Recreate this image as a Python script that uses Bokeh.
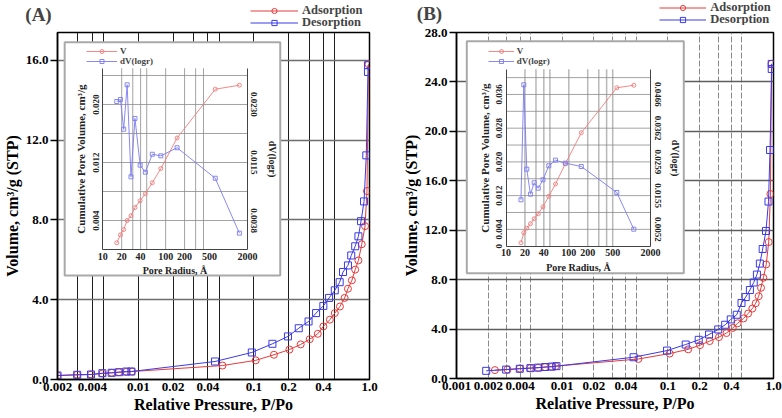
import math
from bokeh.plotting import figure
from bokeh.layouts import row, column
from bokeh.models import (Range1d, LogScale, LinearAxis, LogAxis, FixedTicker,
                          PrintfTickFormatter, Legend, LegendItem, Label)
from bokeh.embed import file_html
from bokeh.resources import INLINE

# ---------------- Panel A: isotherm ----------------
A_ads_p = [0.002, 0.00296, 0.0039, 0.00489, 0.00588, 0.00679, 0.00789, 0.00881, 0.0535, 0.1037,
           0.149, 0.203, 0.254, 0.304, 0.357, 0.399, 0.454, 0.501, 0.555, 0.609, 0.651, 0.704,
           0.752, 0.802, 0.857, 0.915, 0.951, 0.980]
A_ads_v = [0.20, 0.236, 0.25, 0.30, 0.336, 0.366, 0.386, 0.40, 0.70, 0.96, 1.24, 1.50, 1.76,
           2.02, 2.29, 2.66, 3.00, 3.33, 3.66, 4.09, 4.55, 4.97, 5.51, 5.97, 6.78, 7.69, 9.45, 15.81]
A_des_p = [0.970, 0.970, 0.938, 0.897, 0.845, 0.802, 0.752, 0.695, 0.651, 0.590, 0.552, 0.501,
           0.447, 0.399, 0.345, 0.297, 0.2443, 0.197, 0.1446, 0.0959, 0.0461, 0.00871, 0.00789,
           0.00679, 0.00588, 0.00489, 0.0039, 0.00296, 0.002]
A_des_v = [15.76, 15.42, 11.24, 8.93, 7.94, 7.18, 6.68, 6.22, 5.72, 5.39, 4.88, 4.47, 4.09, 3.69,
           3.33, 2.91, 2.57, 2.16, 1.79, 1.355, 0.903, 0.40, 0.40, 0.366, 0.336, 0.316, 0.251,
           0.236, 0.20]
# Panel A: pore distribution inset
A_r = [16.7, 19.1, 21.5, 24.4, 28.1, 32.5, 39.3, 47.6, 61.3, 83.9, 152, 615, 1489]
A_V = [0.00092, 0.00203, 0.00276, 0.0040, 0.00465, 0.00579, 0.00672, 0.0077, 0.00921, 0.01117,
       0.01538, 0.02211, 0.02266]
A_dV = [0.01956, 0.01983, 0.0159, 0.02177, 0.00961, 0.01732, 0.01115, 0.01022, 0.01259, 0.01238,
        0.01345, 0.00942, 0.00216]

# ---------------- Panel B: isotherm ----------------
B_ads_p = [0.00231, 0.00304, 0.00397, 0.00497, 0.00592, 0.00689, 0.00797, 0.00869, 0.0527, 0.1042,
           0.156, 0.2017, 0.249, 0.305, 0.359, 0.411, 0.458, 0.520, 0.576, 0.631, 0.679, 0.724,
           0.762, 0.802, 0.853, 0.901, 0.935, 0.957]
B_ads_v = [0.68, 0.73, 0.81, 0.84, 0.87, 0.92, 0.95, 1.0, 1.58, 2.02, 2.36, 2.70, 3.03, 3.35,
           3.68, 4.09, 4.47, 4.86, 5.26, 5.66, 6.09, 6.66, 7.34, 8.15, 9.23, 11.04, 14.93, 25.46]
B_des_p = [0.962, 0.962, 0.927, 0.897, 0.849, 0.790, 0.743, 0.697, 0.650, 0.598, 0.546, 0.498,
           0.449, 0.394, 0.349, 0.2998, 0.2454, 0.196, 0.1477, 0.0983, 0.0474, 0.00883, 0.00797,
           0.00689, 0.00592, 0.00501, 0.00397, 0.00295, 0.00191]
B_des_v = [25.46, 25.05, 18.49, 14.32, 11.94, 10.48, 9.30, 8.41, 7.77, 7.16, 6.59, 6.11, 5.16,
           4.78, 4.35, 3.97, 3.56, 3.13, 2.75, 2.26, 1.72, 1.0, 0.96, 0.93, 0.88, 0.84, 0.785,
           0.72, 0.62]
# Panel B: pore distribution inset
B_r = [17.3, 19.2, 21.4, 24.5, 28.1, 32.6, 38.8, 48.0, 61.4, 88, 158, 581, 1084]
B_V = [0.00081, 0.00318, 0.00427, 0.00532, 0.0065, 0.00769, 0.00935, 0.01184, 0.01476, 0.01955,
       0.02691, 0.03759, 0.03818]
B_dV = [0.01425, 0.04956, 0.02364, 0.01597, 0.01947, 0.01781, 0.02039, 0.02469, 0.02641, 0.02549,
        0.02447, 0.01649, 0.00522]

# ---------------- ticks / labels ----------------
A_xticks = [0.002, 0.004, 0.01, 0.02, 0.04, 0.1, 0.2, 0.4, 1.0]
A_xlabels = ["0.002", "0.004", "0.01", "0.02", "0.04", "0.1", "0.2", "0.4", "1.0"]
B_xticks = [0.001, 0.002, 0.004, 0.01, 0.02, 0.04, 0.1, 0.2, 0.4, 1.0]
B_xlabels = ["0.001", "0.002", "0.004", "0.01", "0.02", "0.04", "0.1", "0.2", "0.4", "1.0"]
A_xgrid = [0.003, 0.004, 0.005, 0.01, 0.02, 0.03, 0.04, 0.05, 0.1, 0.2, 0.3, 0.4, 0.5]
B_xgrid = [0.002, 0.003, 0.004, 0.005, 0.01, 0.02, 0.03, 0.04, 0.05, 0.1, 0.2, 0.3, 0.4, 0.5]
A_yticks = [0, 4, 8, 12, 16]
B_yticks = [0, 4, 8, 12, 16, 20, 24, 28]
A_ygrid = [4, 8, 12, 16]
B_ygrid = [4, 8, 12, 16, 20, 24]

r_ticks = [10, 20, 40, 100, 200, 500, 2000]
A_rgrid = [20, 30, 40, 50, 100, 200, 300, 400]
B_rgrid = [20, 30, 40, 50, 100, 200, 300, 400, 500]
A_lticks = [0.004, 0.012, 0.020]
A_llabels = ["0.004", "0.012", "0.020"]
A_rlabels = ["0.0038", "0.0115", "0.0230"]
A_hgrid = [0.004, 0.008, 0.012, 0.016, 0.020, 0.024]
B_lticks = [0.0, 0.004, 0.012, 0.020, 0.028, 0.036]
B_llabels = ["0", "0.004", "0.012", "0.020", "0.028", "0.036"]
B_rticks = [0.004, 0.012, 0.020, 0.028, 0.036]
B_rlabels = ["0.0052", "0.0155", "0.0259", "0.0362", "0.0466"]
B_hgrid = [0.004, 0.008, 0.012, 0.016, 0.020, 0.024, 0.028, 0.032, 0.036, 0.040]

FONT = "Liberation Serif"
RED, BLUE = "#e63a3a", "#3a3ae6"
IRED, IBLUE = "#f07c7c", "#7c7cf0"
W, H = 391, 418


def make_legend(renderers, label, vx, vy, gw, gh, fs, standoff):
    return Legend(items=[LegendItem(label=label, renderers=renderers)],
                  location=(vx, vy), orientation="vertical",
                  padding=0, margin=0, spacing=0, border_line_color=None,
                  background_fill_alpha=0, inactive_fill_alpha=0,
                  glyph_width=gw, glyph_height=gh, label_height=gh,
                  label_standoff=standoff, label_text_font=FONT, label_text_font_style="bold",
                  label_text_font_size=fs, label_text_baseline="middle")


def make_strip(c):
    hs = c["strip_h"]
    ox = c["ox"]
    s = figure(width=W, height=hs, x_range=Range1d(0, W), y_range=Range1d(hs, 0),
               output_backend="svg", toolbar_location=None,
               x_axis_location=None, y_axis_location=None, min_border=0)
    s.frame_align = False
    s.min_border_left = 0
    s.min_border_right = 0
    s.min_border_top = 0
    s.min_border_bottom = 0
    s.outline_line_color = None
    s.background_fill_color = "white"
    s.border_fill_color = "white"
    s.grid.visible = False
    # legend-only renderers (hidden; they carry the series styles for the legend)
    la = s.line(c["ads_p"], c["ads_v"], line_color=RED, line_width=1, visible=False)
    sa = s.scatter(c["ads_p"], c["ads_v"], marker="circle", size=7, fill_color=None,
                   line_color=RED, line_width=1, visible=False)
    ld = s.line(c["des_p"], c["des_v"], line_color=BLUE, line_width=1, visible=False)
    sd = s.scatter(c["des_p"], c["des_v"], marker="square", size=7, fill_color=None,
                   line_color=BLUE, line_width=1, visible=False)
    gx, gy, gw = c["leg"]
    gh = 13
    pitch = 12.5
    s.add_layout(make_legend([la, sa], "Adsorption", gx - ox, hs - (gy + gh / 2.0), gw, gh, "12.5px", 4))
    s.add_layout(make_legend([ld, sd], "Desorption", gx - ox, hs - (gy + pitch + gh / 2.0), gw, gh,
                             "12.5px", 4))
    tx, ty = c["title_xy"]
    s.add_layout(Label(x=tx - ox, y=ty, text=c["title"], text_font=FONT, text_font_style="bold",
                       text_font_size="19px", text_align="center", text_baseline="middle"))
    return s


def make_panel(c):
    L, R, T, B = c["borders"]
    ph = H - c["strip_h"]
    fh = ph - T - B
    fb = T + fh  # frame bottom in this figure's px
    ox = c["ox"]
    p = figure(width=W, height=ph, x_axis_type="log",
               x_range=Range1d(c["xmin"], 1.0), y_range=Range1d(0, c["ymax"]),
               output_backend="svg", toolbar_location=None,
               min_border_left=L, min_border_right=R, min_border_top=T, min_border_bottom=B)
    p.frame_align = False
    p.background_fill_color = "white"
    p.border_fill_color = "white"
    p.outline_line_color = "black"
    p.outline_line_width = 1.5

    xa = p.below[0]
    xa.ticker = FixedTicker(ticks=c["xticks"])
    xa.major_label_overrides = dict(zip(c["xticks"], c["xlabels"]))
    xa.minor_tick_line_color = None
    xa.major_tick_out = 0
    xa.major_tick_in = 0
    xa.major_label_standoff = 3
    xa.axis_label = "Relative Pressure, P/Po"
    xa.axis_label_standoff = 2
    ya = p.left[0]
    ya.ticker = FixedTicker(ticks=c["yticks"])
    ya.formatter = PrintfTickFormatter(format="%.1f")
    ya.minor_tick_line_color = None
    ya.major_tick_out = 7
    ya.major_tick_in = 0
    ya.major_label_standoff = 2
    ya.axis_label = "Volume, cm\u00b3/g (STP)"
    ya.axis_label_standoff = 2
    for ax in (xa, ya):
        ax.axis_line_width = 1.5
        ax.axis_line_color = "black"
        ax.major_tick_line_width = 1.5
        ax.major_label_text_font = FONT
        ax.major_label_text_font_style = "bold"
        ax.major_label_text_font_size = "13px"
        ax.major_label_text_color = "black"
        ax.axis_label_text_font = FONT
        ax.axis_label_text_font_style = "bold"
        ax.axis_label_text_font_size = "16px"
        ax.axis_label_text_color = "black"

    p.xgrid.ticker = FixedTicker(ticks=c["xgrid"])
    p.xgrid.grid_line_color = c["xgrid_color"]
    p.xgrid.grid_line_width = 1
    p.xgrid.grid_line_dash = c["xgrid_dash"]
    p.ygrid.ticker = FixedTicker(ticks=c["ygrid"])
    p.ygrid.grid_line_color = c["ygrid_color"]
    p.ygrid.grid_line_width = 1.5

    # main isotherm
    p.line(c["ads_p"], c["ads_v"], line_color=RED, line_width=1)
    p.scatter(c["ads_p"], c["ads_v"], marker="circle", size=7, fill_color=None,
              line_color=RED, line_width=1)
    p.line(c["des_p"], c["des_v"], line_color=BLUE, line_width=1)
    p.scatter(c["des_p"], c["des_v"], marker="square", size=7, fill_color=None,
              line_color=BLUE, line_width=1)

    # ---------- inset coordinate system ----------
    fx0, fx1, fy0, fy1 = c["inner_frac"]
    lr0, lr1 = math.log10(10), math.log10(2000)
    per = (lr1 - lr0) / (fx1 - fx0)
    lx_lo, lx_hi = lr0 - fx0 * per, lr0 + (1 - fx0) * per
    vtop = c["vtop"]
    vper = vtop / (fy1 - fy0)
    iy_lo, iy_hi = -fy0 * vper, (1 - fy0) * vper
    k = c["k"]
    p.extra_x_ranges = {"ix": Range1d(10 ** lx_lo, 10 ** lx_hi)}
    p.extra_x_scales = {"ix": LogScale()}
    p.extra_y_ranges = {"iyl": Range1d(iy_lo, iy_hi), "iyr": Range1d(iy_lo * k, iy_hi * k)}

    def fx(f):
        return 10 ** (lx_lo + f * (lx_hi - lx_lo))

    def fy(f):
        return iy_lo + f * (iy_hi - iy_lo)

    bx0, bx1, by0, by1 = c["box_frac"]
    p.quad(left=[fx(bx0)], right=[fx(bx1)], bottom=[fy(by0)], top=[fy(by1)],
           x_range_name="ix", y_range_name="iyl", fill_color="white",
           line_color="#a9a9a9", line_width=2)
    # inset grid
    n = len(c["rgrid"])
    p.segment(x0=c["rgrid"], x1=c["rgrid"], y0=[0] * n, y1=[vtop] * n,
              x_range_name="ix", y_range_name="iyl", line_color=c["ivgrid_color"],
              line_width=c["ivgrid_width"])
    m = len(c["hgrid"])
    p.segment(x0=[10] * m, x1=[2000] * m, y0=c["hgrid"], y1=c["hgrid"],
              x_range_name="ix", y_range_name="iyl", line_color="#8c8c8c", line_width=0.8)

    # inset data
    lv = p.line(c["r"], c["V"], x_range_name="ix", y_range_name="iyl", line_color=IRED, line_width=0.9)
    sv = p.scatter(c["r"], c["V"], x_range_name="ix", y_range_name="iyl", marker="circle", size=4,
                   fill_color=None, line_color=IRED, line_width=0.9)
    lq = p.line(c["r"], c["dV"], x_range_name="ix", y_range_name="iyr", line_color=IBLUE, line_width=0.9)
    sq = p.scatter(c["r"], c["dV"], x_range_name="ix", y_range_name="iyr", marker="square", size=4,
                   fill_color=None, line_color=IBLUE, line_width=0.9)

    # inset axes
    def style_inset(ax, fs):
        ax.axis_line_color = "#444444"
        ax.axis_line_width = 1
        ax.major_tick_out = 0
        ax.major_tick_in = 0
        ax.minor_tick_line_color = None
        ax.major_label_text_font = FONT
        ax.major_label_text_font_style = "bold"
        ax.major_label_text_font_size = fs
        ax.major_label_text_color = "#222222"
        ax.axis_label_text_font = FONT
        ax.axis_label_text_font_style = "bold"
        ax.axis_label_text_color = "#222222"

    iax = LogAxis(x_range_name="ix", y_range_name="iyl", fixed_location=0, bounds=(10, 2000),
                  ticker=FixedTicker(ticks=r_ticks), formatter=PrintfTickFormatter(format="%d"),
                  axis_label="Pore Radius, \u00c5")
    style_inset(iax, "10px")
    iax.major_label_standoff = 3
    iax.axis_label_standoff = 2
    iax.axis_label_text_font_size = "10px"
    p.add_layout(iax, "below")

    ilax = LinearAxis(x_range_name="ix", y_range_name="iyl", fixed_location=10, bounds=(0, vtop),
                      ticker=FixedTicker(ticks=c["lticks"]),
                      major_label_overrides=dict(zip(c["lticks"], c["llabels"])),
                      major_label_orientation="vertical",
                      axis_label="Cumulative Pore Volume, cm\u00b3/g")
    style_inset(ilax, "9px")
    ilax.major_label_standoff = 4
    ilax.axis_label_standoff = 3
    ilax.axis_label_text_font_size = "11px"
    p.add_layout(ilax, "left")

    irax = LinearAxis(x_range_name="ix", y_range_name="iyl", fixed_location=2000, bounds=(0, vtop),
                      ticker=FixedTicker(ticks=c["rticks"]),
                      major_label_overrides=dict(zip(c["rticks"], c["rlabels"])),
                      major_label_orientation="vertical",
                      axis_label="dV(logr)")
    style_inset(irax, "9px")
    irax.major_label_standoff = 4
    irax.axis_label_standoff = 6
    irax.axis_label_text_font_size = "10px"
    p.add_layout(irax, "right")

    # inset legends (page px -> frame-relative px)
    gx, gy, gw = c["ileg"]
    gh = 10
    sh = c["strip_h"]
    p.add_layout(make_legend([lv, sv], "V", gx - ox - L, fb - (gy - sh + gh / 2.0), gw, gh, "9px", 3))
    p.add_layout(make_legend([lq, sq], "dV(logr)", gx - ox - L, fb - (gy - sh + 10.3 + gh / 2.0),
                             gw, gh, "9px", 3))
    return p


cfgA = dict(strip_h=30, borders=(52, 22, 2, 39), xmin=0.002, ymax=17.4, ox=0,
            xticks=A_xticks, xlabels=A_xlabels, xgrid=A_xgrid, yticks=A_yticks, ygrid=A_ygrid,
            xgrid_color="#1e1e1e", xgrid_dash="solid", ygrid_color="#6e6e6e",
            ads_p=A_ads_p, ads_v=A_ads_v, des_p=A_des_p, des_v=A_des_v,
            inner_frac=(0.1451, 0.6088, 0.3746, 0.897), vtop=0.025, k=0.9583,
            box_frac=(0.023, 0.7139, 0.2997, 0.972),
            rgrid=A_rgrid, hgrid=A_hgrid, ivgrid_color="#8c8c8c", ivgrid_width=0.8,
            r=A_r, V=A_V, dV=A_dV, lticks=A_lticks, llabels=A_llabels,
            rticks=A_lticks, rlabels=A_rlabels,
            leg=(250, 11, 48), ileg=(81, 50.7, 31), title="(A)", title_xy=(38, 13.5))

cfgB = dict(strip_h=25, borders=(65, 9, 7, 40), xmin=0.001, ymax=28, ox=391,
            xticks=B_xticks, xlabels=B_xlabels, xgrid=B_xgrid, yticks=B_yticks, ygrid=B_ygrid,
            xgrid_color="#8a8a8a", xgrid_dash="6 2", ygrid_color="#5e5e5e",
            ads_p=B_ads_p, ads_v=B_ads_v, des_p=B_des_p, des_v=B_des_v,
            inner_frac=(0.1562, 0.612, 0.3824, 0.894), vtop=0.042, k=1.294,
            box_frac=(0.0325, 0.717, 0.3043, 0.975),
            rgrid=B_rgrid, hgrid=B_hgrid, ivgrid_color="#b8b8b8", ivgrid_width=1.5,
            r=B_r, V=B_V, dV=B_dV, lticks=B_lticks, llabels=B_llabels,
            rticks=B_rticks, rlabels=B_rlabels,
            leg=(659.3, 8, 47), ileg=(487.7, 51, 26), title="(B)", title_xy=(429, 12.7))

colA = column(make_strip(cfgA), make_panel(cfgA), spacing=0)
colB = column(make_strip(cfgB), make_panel(cfgB), spacing=0)
layout = row(colA, colB, spacing=0)
open("out.html", "w").write(file_html(layout, INLINE))
